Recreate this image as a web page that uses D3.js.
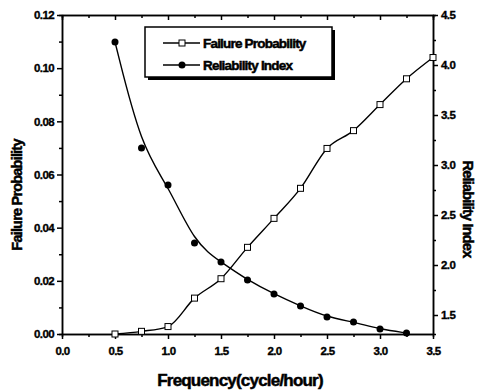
<!DOCTYPE html>
<html>
<head>
<style>
body { margin: 0; background: #fff; }
svg { font-family: "Liberation Sans", Arial, sans-serif; font-weight: bold; }
.axis path, .axis line { stroke: #000; stroke-width: 1.5px; }
.axis text { font-size: 11.5px; font-weight: bold; letter-spacing: -0.6px; stroke: #000; stroke-width: 0.35px; }
.title { letter-spacing: -0.8px; stroke: #000; stroke-width: 0.5px; }
</style>
</head>
<body>
<svg width="478" height="392"></svg>
<script src="https://d3js.org/d3.v7.min.js"></script>
<script>

var frequency = [0.5, 0.75, 1.0, 1.25, 1.5, 1.75, 2.0, 2.25, 2.5, 2.75, 3.0, 3.25, 3.5];
var failureProb = [0.0, 0.001, 0.0028, 0.0135, 0.0208, 0.0326, 0.0435, 0.0548, 0.0698, 0.0765, 0.0863, 0.096, 0.104];
var relFreq = [0.5, 0.75, 1.0, 1.25, 1.5, 1.75, 2.0, 2.25, 2.5, 2.75, 3.0, 3.25];
var reliability = [4.23, 3.17, 2.80, 2.22, 2.03, 1.85, 1.71, 1.59, 1.48, 1.43, 1.36, 1.32];

var seriesNames = ["Failure Probability", "Reliability Index"];

var svg = d3.select("svg");
var mLeft = 62, mRight = 433, mTop = 15, mBottom = 334;

var x = d3.scaleLinear().domain([0, 3.5]).range([mLeft, mRight]);
var yL = d3.scaleLinear().domain([0, 0.12]).range([mBottom, mTop]);
var yR = d3.scaleLinear().domain([1.31, 4.5]).range([mBottom, mTop]);

// minor ticks
svg.append("g").attr("class", "axis").attr("transform", "translate(0," + mBottom + ")")
  .call(d3.axisBottom(x).tickValues(d3.range(0.25, 3.5, 0.5)).tickSize(3).tickFormat(""));
svg.append("g").attr("class", "axis").attr("transform", "translate(0," + mTop + ")")
  .call(d3.axisBottom(x).tickValues(d3.range(0.25, 3.5, 0.5)).tickSize(3).tickFormat(""));
svg.append("g").attr("class", "axis").attr("transform", "translate(" + mLeft + ",0)")
  .call(d3.axisLeft(yL).tickValues(d3.range(0.01, 0.12, 0.02)).tickSize(3).tickFormat(""));
svg.append("g").attr("class", "axis").attr("transform", "translate(" + mRight + ",0)")
  .call(d3.axisRight(yR).tickValues([1.75, 2.25, 2.75, 3.25, 3.75, 4.25]).tickSize(3).tickFormat(""));

// major axes
svg.append("g").attr("class", "axis").attr("transform", "translate(0," + mBottom + ")")
  .call(d3.axisBottom(x).tickValues(d3.range(0, 3.51, 0.5)).tickSize(5).tickSizeOuter(0).tickFormat(d3.format(".1f")))
  .selectAll("text").attr("dy", "1.1em");
svg.append("g").attr("class", "axis").attr("transform", "translate(0," + mTop + ")")
  .call(d3.axisBottom(x).tickValues(d3.range(0, 3.51, 0.5)).tickSize(5).tickSizeOuter(0).tickFormat(""));
svg.append("g").attr("class", "axis").attr("transform", "translate(" + mLeft + ",0)")
  .call(d3.axisLeft(yL).tickValues(d3.range(0, 0.121, 0.02)).tickSize(5).tickSizeOuter(0).tickFormat(d3.format(".2f")));
svg.append("g").attr("class", "axis").attr("transform", "translate(" + mRight + ",0)")
  .call(d3.axisRight(yR).tickValues([1.5, 2.0, 2.5, 3.0, 3.5, 4.0, 4.5]).tickSize(5).tickSizeOuter(0).tickFormat(d3.format(".1f")));

// lines
var fpData = frequency.map(function (f, i) { return [f, failureProb[i]]; });
var riData = relFreq.map(function (f, i) { return [f, reliability[i]]; });

svg.append("path").datum(fpData)
  .attr("fill", "none").attr("stroke", "#000").attr("stroke-width", 1.4)
  .attr("d", d3.line().x(function (d) { return x(d[0]); }).y(function (d) { return yL(d[1]); }).curve(d3.curveMonotoneX));
svg.append("path").datum(riData)
  .attr("fill", "none").attr("stroke", "#000").attr("stroke-width", 1.4)
  .attr("d", d3.line().x(function (d) { return x(d[0]); }).y(function (d) { return yR(d[1]); }).curve(d3.curveBasis));

svg.selectAll(".sq").data(fpData).enter().append("rect")
  .attr("x", function (d) { return x(d[0]) - 3; })
  .attr("y", function (d) { return yL(d[1]) - 3; })
  .attr("width", 6).attr("height", 6)
  .attr("fill", "#fff").attr("stroke", "#000").attr("stroke-width", 1);
svg.selectAll(".dot").data(riData).enter().append("circle")
  .attr("cx", function (d) { return x(d[0]); })
  .attr("cy", function (d) { return yR(d[1]); })
  .attr("r", 3.5).attr("fill", "#000");

// legend
var lg = svg.append("g");
lg.append("rect").attr("x", 148).attr("y", 30).attr("width", 187).attr("height", 50).attr("fill", "#000");
lg.append("rect").attr("x", 145).attr("y", 27).attr("width", 187).attr("height", 50)
  .attr("fill", "#fff").attr("stroke", "#000").attr("stroke-width", 1.5);
seriesNames.forEach(function (name, i) {
  var yy = 43 + i * 22;
  lg.append("line").attr("x1", 163).attr("x2", 200).attr("y1", yy).attr("y2", yy).attr("stroke", "#000").attr("stroke-width", 1.4);
  if (i === 0) {
    lg.append("rect").attr("x", 179).attr("y", yy - 3).attr("width", 6).attr("height", 6).attr("fill", "#fff").attr("stroke", "#000");
  } else {
    lg.append("circle").attr("cx", 182).attr("cy", yy).attr("r", 3.5).attr("fill", "#000");
  }
  lg.append("text").attr("class", "title").attr("x", 203).attr("y", yy + 5)
    .style("font-size", "13.5px").text(name);
});

// titles
svg.append("text").attr("class", "title").attr("x", 240).attr("y", 386)
  .attr("text-anchor", "middle").style("font-size", "17px").text("Frequency(cycle/hour)");
svg.append("text").attr("class", "title").attr("transform", "translate(22,195) rotate(-90)")
  .attr("text-anchor", "middle").style("font-size", "14.5px").text("Failure Probability");
svg.append("text").attr("class", "title").attr("transform", "translate(463,209) rotate(90)")
  .attr("text-anchor", "middle").style("font-size", "14.5px").text("Reliability Index");

</script>
</body>
</html>
